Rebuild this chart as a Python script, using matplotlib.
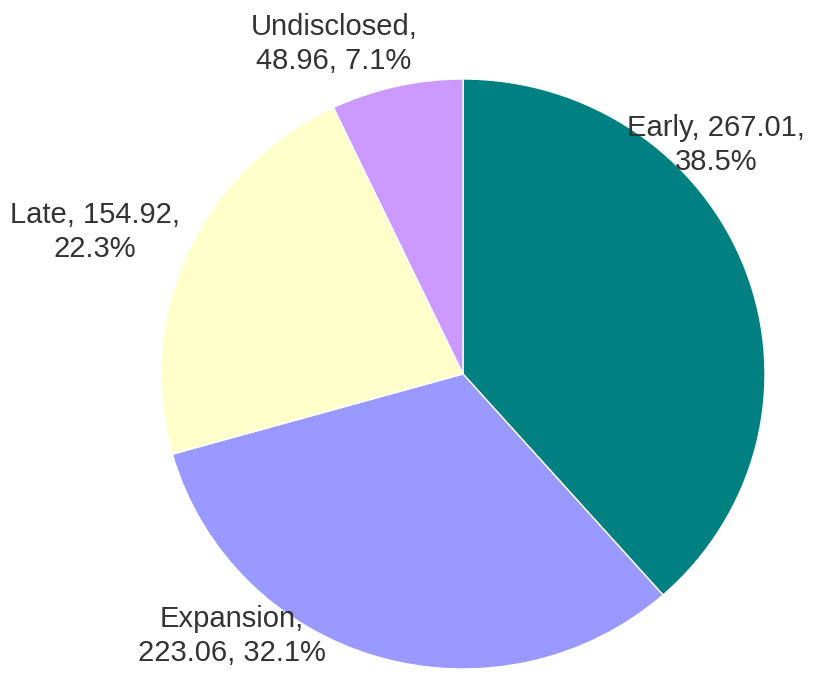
import matplotlib.pyplot as plt

# Investment by stage
stages = ["Early", "Expansion", "Late", "Undisclosed"]
amounts = [267.01, 223.06, 154.92, 48.96]
colors = ["#008080", "#9999ff", "#ffffcc", "#cc99ff"]

# label anchor points, in pie radius units (x, y)
label_pos = {
    "Early": (0.839, 0.776),
    "Expansion": (-0.765, -0.888),
    "Late": (-1.219, 0.481),
    "Undisclosed": (-0.427, 1.118),
}
label_breaks = {
    "Early": "{name}, {val:.2f},\n{pct:.1f}%",
    "Expansion": "{name},\n{val:.2f}, {pct:.1f}%",
    "Late": "{name}, {val:.2f},\n{pct:.1f}%",
    "Undisclosed": "{name},\n{val:.2f}, {pct:.1f}%",
}

W, H = 817, 678
fig = plt.figure(figsize=(W / 100, H / 100), dpi=100)
# pie spans x 161..765 px and y 79..669 px (from top)
ax = fig.add_axes([161 / W, (H - 669) / H, 604 / W, 590 / H])

ax.pie(
    amounts,
    colors=colors,
    startangle=90,
    counterclock=False,
    wedgeprops={"edgecolor": "white", "linewidth": 1},
)
ax.set_aspect("auto")
ax.set_xlim(-1, 1)
ax.set_ylim(-1, 1)
ax.axis("off")

total = sum(amounts)
for name, val in zip(stages, amounts):
    txt = label_breaks[name].format(name=name, val=val, pct=val / total * 100)
    x, y = label_pos[name]
    ax.text(
        x, y, txt,
        ha="center", va="center", multialignment="center",
        fontsize=21, color="#333333", family="Liberation Sans",
        linespacing=1.3, clip_on=False,
    )

fig.savefig("out.png", dpi=100)
